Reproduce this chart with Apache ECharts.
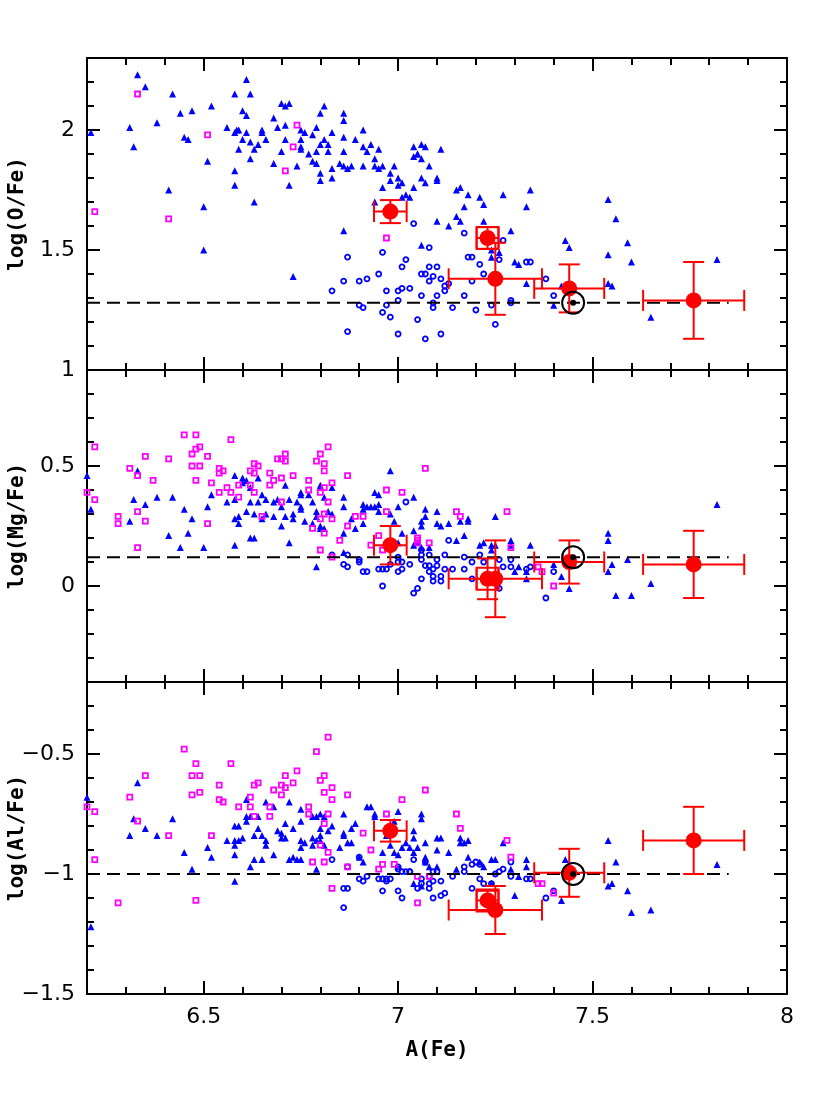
<!DOCTYPE html>
<html>
<head>
<meta charset="utf-8">
<script src="https://cdn.jsdelivr.net/npm/echarts@6.0.0/dist/echarts.min.js"></script>
<style>
  html, body { margin: 0; padding: 0; background: #fff; }
  #chart { width: 830px; height: 1106px; }
</style>
</head>
<body>
<div id="chart"></div>
<script>
// A(Fe) range shared by the three panels
const feRange = [6.2, 8];

// log(O/Fe)
const oTriangles = [
  [6.21,1.99],[6.33,2.23],[6.35,2.18],[6.31,2.01],[6.32,1.93],[6.38,2.03],[6.42,2.15],[6.41,1.75],[6.44,2.07],[6.45,1.97],
  [6.46,1.96],[6.47,2.08],[6.50,1.68],[6.50,1.50],[6.51,1.87],[6.52,2.10],[6.56,2.01],[6.58,2.15],[6.58,1.83],[6.58,1.77],
  [6.58,1.99],[6.585,2.00],[6.59,2.00],[6.59,1.92],[6.60,2.08],[6.61,2.21],[6.61,2.06],[6.61,1.99],[6.60,1.96],[6.62,2.15],
  [6.62,1.95],[6.62,1.88],[6.63,1.92],[6.63,1.70],[6.64,1.94],[6.65,2.00],[6.65,1.99],[6.66,1.96],[6.68,2.05],[6.68,1.86],
  [6.69,2.01],[6.70,2.11],[6.71,2.10],[6.72,2.11],[6.70,1.91],[6.71,2.02],[6.71,1.96],[6.72,1.77],[6.73,1.39],[6.74,1.85],
  [6.75,2.00],[6.75,1.92],[6.75,1.93],[6.75,1.96],[6.76,1.99],[6.77,1.90],[6.78,1.98],[6.78,1.87],[6.79,1.86],[6.79,2.01],
  [6.79,1.91],[6.80,2.07],[6.80,1.94],[6.80,1.82],[6.80,1.79],[6.81,2.10],[6.81,1.96],[6.82,1.94],[6.82,1.91],[6.83,1.99],
  [6.83,1.84],[6.83,1.80],[6.85,1.86],[6.86,1.85],[6.87,1.84],[6.88,1.85],[6.86,2.07],[6.86,2.04],[6.86,1.97],[6.86,1.91],
  [6.86,1.58],[6.89,1.96],[6.91,2.00],[6.91,1.93],[6.91,1.85],[6.92,1.91],[6.93,1.94],[6.94,1.88],[6.94,1.85],[6.95,1.92],
  [6.95,1.84],[6.96,1.85],[6.96,1.76],[6.94,1.70],[6.98,1.82],[6.99,1.85],[6.98,1.79],[7.00,1.80],[7.01,1.78],[7.00,1.77],
  [7.02,1.73],[7.01,1.72],[7.03,1.72],[7.04,1.89],[7.05,1.90],[7.04,1.76],[7.04,1.93],[7.06,1.94],[7.07,1.93],[7.05,1.90],
  [7.06,1.88],[7.08,1.85],[7.11,1.92],[7.06,1.80],[7.07,1.78],[7.10,1.80],[7.10,1.79],[7.10,1.62],[7.13,1.60],[7.15,1.75],
  [7.16,1.76],[7.18,1.73],[7.17,1.68],[7.15,1.64],[7.16,1.62],[7.21,1.72],[7.22,1.69],[7.27,1.73],[7.34,1.75],[7.33,1.68],
  [7.22,1.62],[7.29,1.58],[7.06,1.52],[7.24,1.47],[7.24,1.50],[7.26,1.49],[7.30,1.45],[7.31,1.44],[7.33,1.36],[7.43,1.54],
  [7.44,1.51],[7.54,1.71],[7.56,1.63],[7.59,1.53],[7.60,1.45],[7.54,1.48],[7.54,1.36],[7.55,1.35],[7.65,1.22],[7.82,1.46],
  [7.40,1.27],[7.42,1.35]
];
const oCircles = [
  [6.87,1.47],[6.86,1.37],[6.83,1.33],[6.90,1.37],[6.92,1.38],[6.90,1.27],[6.91,1.26],[6.87,1.16],[6.95,1.40],[6.96,1.49],
  [6.97,1.33],[6.97,1.27],[6.96,1.24],[6.98,1.22],[7.00,1.15],[7.00,1.33],[7.01,1.34],[7.03,1.34],[7.00,1.29],[7.01,1.43],
  [7.02,1.46],[7.04,1.61],[7.05,1.21],[7.06,1.40],[7.07,1.40],[7.06,1.31],[7.07,1.13],[7.08,1.51],[7.08,1.43],[7.10,1.43],
  [7.09,1.39],[7.08,1.37],[7.11,1.38],[7.09,1.28],[7.09,1.26],[7.10,1.31],[7.11,1.15],[7.12,1.35],[7.12,1.33],[7.13,1.36],
  [7.14,1.26],[7.17,1.57],[7.17,1.31],[7.18,1.47],[7.19,1.47],[7.19,1.37],[7.20,1.25],[7.21,1.44],[7.22,1.40],[7.24,1.27],
  [7.25,1.19],[7.26,1.46],[7.27,1.54],[7.29,1.29],[7.29,1.28],[7.33,1.45],[7.34,1.45],[7.38,1.38],[7.40,1.31]
];
const oSquares = [
  [6.22,1.66],[6.33,2.15],[6.41,1.63],[6.51,1.98],[6.71,1.83],[6.73,1.93],[6.74,2.02],[6.97,1.55]
];

// log(Mg/Fe)
const mgTriangles = [
  [6.20,0.46],[6.21,0.32],[6.31,0.27],[6.32,0.36],[6.33,0.48],[6.35,0.34],[6.38,0.37],[6.41,0.21],[6.42,0.37],[6.44,0.16],
  [6.45,0.32],[6.46,0.22],[6.47,0.28],[6.50,0.16],[6.51,0.33],[6.52,0.38],[6.56,0.35],[6.58,0.46],[6.58,0.36],[6.58,0.28],
  [6.59,0.29],[6.58,0.17],[6.59,0.26],[6.60,0.45],[6.61,0.44],[6.60,0.43],[6.61,0.31],[6.62,0.41],[6.62,0.35],[6.62,0.20],
  [6.63,0.20],[6.63,0.30],[6.64,0.35],[6.64,0.45],[6.65,0.38],[6.65,0.28],[6.66,0.36],[6.66,0.30],[6.68,0.35],[6.68,0.29],
  [6.69,0.36],[6.70,0.33],[6.70,0.25],[6.71,0.42],[6.71,0.29],[6.72,0.36],[6.72,0.18],[6.73,0.30],[6.73,0.28],[6.74,0.35],
  [6.75,0.39],[6.75,0.38],[6.75,0.33],[6.75,0.32],[6.76,0.27],[6.77,0.38],[6.78,0.35],[6.78,0.26],[6.79,0.31],[6.79,0.29],
  [6.79,0.08],[6.80,0.42],[6.80,0.41],[6.80,0.25],[6.80,0.24],[6.81,0.24],[6.81,0.37],[6.82,0.31],[6.83,0.41],[6.83,0.30],
  [6.86,0.37],[6.86,0.33],[6.86,0.22],[6.86,0.14],[6.88,0.28],[6.89,0.24],[6.91,0.34],[6.91,0.32],[6.91,0.26],[6.92,0.33],
  [6.93,0.33],[6.94,0.33],[6.95,0.34],[6.94,0.39],[6.95,0.38],[6.95,0.31],[6.98,0.48],[6.98,0.30],[6.99,0.27],[7.00,0.33],
  [7.01,0.22],[7.04,0.37],[7.04,0.23],[7.04,0.17],[7.07,0.32],[7.10,0.31],[7.07,0.29],[7.06,0.27],[7.06,0.25],[7.10,0.26],
  [7.11,0.25],[7.13,0.26],[7.16,0.27],[7.18,0.28],[7.18,0.27],[7.15,0.19],[7.17,0.21],[7.06,0.16],[7.08,0.16],[7.05,0.18],
  [7.25,0.29],[7.21,0.17],[7.22,0.18],[7.24,0.17],[7.24,0.15],[7.29,0.19],[7.29,0.17],[7.34,0.17],[7.31,0.08],[7.30,0.06],
  [7.33,0.06],[7.33,0.03],[7.00,0.18],[7.40,0.09],[7.42,0.04],[7.44,-0.01],[7.54,0.22],[7.54,0.19],[7.55,0.09],[7.54,0.06],
  [7.59,0.11],[7.56,-0.04],[7.60,-0.04],[7.65,0.01],[7.82,0.34],[7.25,0.17]
];
const mgCircles = [
  [6.83,0.13],[6.86,0.09],[6.87,0.08],[6.87,0.13],[6.90,0.11],[6.90,0.10],[6.91,0.06],[6.92,0.06],[6.95,0.07],[6.96,0.07],
  [6.97,0.07],[6.96,0.00],[6.98,0.09],[7.00,0.12],[7.00,0.10],[7.00,0.06],[7.01,0.07],[7.01,0.10],[7.02,0.35],[7.03,0.09],
  [7.04,-0.03],[7.05,-0.01],[7.06,0.15],[7.06,0.13],[7.08,0.13],[7.10,0.11],[7.06,0.11],[7.07,0.085],[7.08,0.085],[7.09,0.07],
  [7.10,0.085],[7.08,0.06],[7.09,0.04],[7.09,0.02],[7.11,0.04],[7.11,0.02],[7.06,0.03],[7.12,0.13],[7.13,0.19],[7.12,0.07],
  [7.14,0.07],[7.17,0.12],[7.17,0.07],[7.19,0.10],[7.19,0.03],[7.21,0.13],[7.22,0.10],[7.26,0.11],[7.26,-0.01],[7.27,0.08],
  [7.29,0.08],[7.29,0.11],[7.33,0.07],[7.34,0.08],[7.38,-0.05],[7.40,0.06]
];
const mgSquares = [
  [6.20,0.39],[6.22,0.58],[6.22,0.36],[6.28,0.29],[6.28,0.26],[6.31,0.49],[6.33,0.46],[6.33,0.31],[6.33,0.16],[6.35,0.54],
  [6.35,0.27],[6.37,0.44],[6.41,0.53],[6.45,0.63],[6.47,0.55],[6.47,0.50],[6.48,0.57],[6.48,0.63],[6.49,0.58],[6.49,0.50],
  [6.48,0.44],[6.51,0.54],[6.51,0.26],[6.52,0.43],[6.54,0.49],[6.54,0.47],[6.55,0.48],[6.54,0.39],[6.56,0.41],[6.57,0.61],
  [6.57,0.39],[6.59,0.42],[6.59,0.37],[6.62,0.48],[6.62,0.42],[6.63,0.51],[6.64,0.50],[6.63,0.47],[6.63,0.39],[6.65,0.29],
  [6.67,0.47],[6.67,0.42],[6.68,0.44],[6.69,0.53],[6.70,0.53],[6.71,0.55],[6.71,0.52],[6.70,0.45],[6.70,0.35],[6.73,0.46],
  [6.77,0.44],[6.77,0.40],[6.78,0.24],[6.79,0.52],[6.80,0.55],[6.80,0.39],[6.80,0.28],[6.80,0.15],[6.81,0.51],[6.81,0.48],
  [6.81,0.41],[6.81,0.30],[6.81,0.22],[6.82,0.58],[6.82,0.35],[6.83,0.43],[6.83,0.28],[6.83,0.12],[6.85,0.19],[6.87,0.46],
  [6.87,0.25],[6.89,0.29],[6.91,0.29],[6.93,0.17],[6.95,0.21],[6.96,0.15],[6.97,0.40],[6.97,0.31],[7.01,0.39],[7.05,0.19],
  [7.07,0.49],[7.15,0.31],[7.16,0.29],[7.28,0.31],[7.29,0.16],[7.36,0.08],[7.37,0.06],[7.40,0.00],[7.05,0.20],[7.05,0.18],
  [7.08,0.18]
];

// log(Al/Fe)
const alTriangles = [
  [6.20,-0.68],[6.21,-1.22],[6.31,-0.84],[6.32,-0.77],[6.33,-0.62],[6.35,-0.81],[6.38,-0.84],[6.42,-0.77],[6.45,-0.91],[6.47,-0.98],
  [6.51,-0.89],[6.52,-0.93],[6.56,-0.86],[6.58,-0.80],[6.59,-0.80],[6.58,-0.86],[6.58,-0.88],[6.58,-0.92],[6.58,-1.03],[6.59,-0.86],
  [6.60,-0.85],[6.61,-0.78],[6.61,-0.69],[6.61,-0.76],[6.62,-0.76],[6.62,-0.97],[6.63,-0.84],[6.63,-0.94],[6.65,-0.94],[6.64,-0.81],
  [6.64,-0.76],[6.65,-0.84],[6.66,-0.70],[6.66,-0.86],[6.66,-0.88],[6.68,-0.72],[6.68,-0.92],[6.69,-0.82],[6.70,-0.83],[6.70,-0.85],
  [6.71,-0.85],[6.71,-0.79],[6.72,-0.70],[6.72,-0.94],[6.73,-0.93],[6.74,-0.94],[6.75,-0.94],[6.73,-0.81],[6.75,-0.73],[6.75,-0.78],
  [6.75,-0.86],[6.75,-0.89],[6.76,-0.87],[6.78,-0.76],[6.79,-0.76],[6.80,-0.75],[6.78,-0.85],[6.79,-0.86],[6.78,-0.88],[6.79,-0.98],
  [6.80,-0.81],[6.80,-0.84],[6.80,-0.86],[6.81,-0.76],[6.81,-0.88],[6.82,-0.82],[6.83,-0.80],[6.85,-0.89],[6.86,-0.75],[6.86,-0.83],
  [6.86,-0.84],[6.87,-0.87],[6.88,-0.87],[6.88,-0.81],[6.89,-0.79],[6.90,-0.93],[6.91,-0.95],[6.92,-0.72],[6.93,-0.72],[6.94,-0.75],
  [6.94,-0.76],[6.96,-0.91],[6.97,-0.84],[6.98,-0.88],[6.99,-0.78],[6.99,-0.91],[7.00,-0.92],[7.00,-0.74],[7.01,-0.89],[7.02,-0.87],
  [7.03,-0.89],[7.04,-0.91],[7.04,-0.82],[7.06,-0.75],[7.06,-0.77],[7.04,-0.85],[7.05,-0.89],[7.07,-0.87],[7.07,-0.93],[7.07,-0.95],
  [7.10,-0.85],[7.11,-0.85],[7.10,-0.90],[7.13,-0.91],[7.16,-0.85],[7.16,-0.87],[7.17,-0.87],[7.18,-0.86],[7.15,-0.98],[7.18,-0.93],
  [7.21,-0.95],[7.24,-0.94],[7.25,-0.94],[7.27,-0.87],[7.29,-0.98],[7.31,-1.01],[7.33,-0.94],[7.33,-0.97],[7.30,-1.09],[7.04,-1.04],
  [7.06,-1.05],[7.08,-0.97],[7.10,-0.97],[7.22,-0.97],[7.24,-1.04],[7.42,-1.11],[7.43,-0.94],[7.54,-0.86],[7.56,-0.95],[7.54,-1.05],
  [7.55,-1.04],[7.59,-1.07],[7.60,-1.16],[7.65,-1.15],[7.82,-0.96]
];
const alCircles = [
  [6.83,-0.94],[6.86,-1.06],[6.87,-1.06],[6.86,-1.14],[6.87,-0.97],[6.90,-0.93],[6.90,-1.02],[6.91,-1.03],[6.92,-1.01],[6.95,-1.02],
  [6.96,-1.02],[6.97,-1.02],[6.98,-1.02],[6.97,-1.03],[6.96,-1.07],[7.00,-0.97],[7.00,-0.98],[7.01,-0.99],[7.00,-1.07],[7.01,-1.10],
  [7.03,-0.99],[7.04,-0.94],[7.05,-1.06],[7.07,-0.95],[7.09,-0.99],[7.10,-0.99],[7.08,-1.01],[7.08,-1.04],[7.08,-1.06],[7.09,-1.03],
  [7.11,-1.03],[7.09,-1.10],[7.11,-1.09],[7.12,-1.08],[7.14,-1.01],[7.17,-0.97],[7.17,-0.99],[7.19,-0.96],[7.20,-0.95],[7.21,-0.96],
  [7.21,-1.02],[7.22,-1.04],[7.19,-1.06],[7.24,-1.04],[7.25,-1.00],[7.26,-0.99],[7.27,-0.98],[7.29,-0.95],[7.29,-1.01],[7.33,-1.02],
  [7.34,-1.02],[7.38,-1.10],[7.40,-1.07],[7.06,-1.02],[7.06,-1.04],[7.02,-0.99],[7.03,-0.99]
];
const alSquares = [
  [6.20,-0.72],[6.22,-0.74],[6.22,-0.94],[6.28,-1.12],[6.31,-0.68],[6.33,-0.78],[6.35,-0.59],[6.41,-0.84],[6.45,-0.48],[6.47,-0.59],
  [6.47,-0.67],[6.48,-0.54],[6.48,-1.11],[6.49,-0.59],[6.49,-0.66],[6.52,-0.84],[6.54,-0.63],[6.54,-0.69],[6.55,-0.70],[6.57,-0.54],
  [6.59,-0.72],[6.62,-0.68],[6.62,-0.72],[6.63,-0.63],[6.64,-0.62],[6.63,-0.76],[6.67,-0.72],[6.67,-0.76],[6.68,-0.65],[6.70,-0.63],
  [6.71,-0.64],[6.70,-0.67],[6.71,-0.59],[6.73,-0.62],[6.74,-0.57],[6.77,-0.72],[6.77,-0.75],[6.78,-0.95],[6.79,-0.49],[6.80,-0.61],
  [6.80,-0.88],[6.81,-0.59],[6.81,-0.66],[6.81,-0.79],[6.81,-0.95],[6.82,-0.43],[6.82,-0.75],[6.82,-0.91],[6.83,-0.64],[6.83,-0.69],
  [6.83,-1.06],[6.87,-0.67],[6.87,-0.97],[6.91,-0.83],[6.93,-0.90],[6.95,-0.98],[6.96,-0.96],[6.97,-0.75],[6.99,-0.96],[7.01,-0.69],
  [7.05,-1.12],[7.05,-1.01],[7.07,-0.65],[7.15,-0.75],[7.16,-0.81],[7.28,-0.86],[7.29,-0.93],[7.08,-1.01],[7.36,-1.04],[7.37,-1.04],
  [7.40,-1.08]
];

// red stars with error bars (same A(Fe) in every panel)
const starFe = [6.98, 7.23, 7.25, 7.44, 7.76];
const starFeErr = [0.042, 0.028, 0.12, 0.09, 0.13];
const starO = [1.66, 1.55, 1.38, 1.34, 1.29];
const starOErr = [0.048, 0.045, 0.15, 0.10, 0.16];
const starMg = [0.17, 0.03, 0.03, 0.10, 0.09];
const starMgErr = [0.08, 0.085, 0.16, 0.09, 0.14];
const starAl = [-0.82, -1.11, -1.15, -0.995, -0.86];
const starAlErr = [0.045, 0.04, 0.10, 0.10, 0.14];
const boxedStar = 1; // index of the star drawn with an open square

// sun and dashed solar reference lines
const solarFe = 7.45;
const solarO = 1.28, solarMg = 0.12, solarAl = -1.0;
const refLineFe = [6.2, 7.85];

const panels = [
  { name: 'log(O/Fe)', min: 1, max: 2.3, tri: oTriangles, circ: oCircles, sq: oSquares, star: starO, err: starOErr, sun: solarO },
  { name: 'log(Mg/Fe)', min: -0.4, max: 0.9, tri: mgTriangles, circ: mgCircles, sq: mgSquares, star: starMg, err: starMgErr, sun: solarMg },
  { name: 'log(Al/Fe)', min: -1.5, max: -0.2, tri: alTriangles, circ: alCircles, sq: alSquares, star: starAl, err: starAlErr, sun: solarAl }
];

const BLUE = '#0000ff', MAGENTA = '#ff00ff', RED = '#ff0000';
const tickFont = { fontFamily: 'DejaVu Sans', fontSize: 22, color: '#000' };
const nameFont = { fontFamily: 'DejaVu Sans Mono', fontWeight: 'bold', fontSize: 21, color: '#000' };

function halfLabel(v) {
  if (Math.abs(v * 2 - Math.round(v * 2)) > 1e-6) return '';
  return String(+v.toFixed(2)).replace('-', '\u2212');
}

function frameAxis(extra) {
  return Object.assign({
    type: 'value',
    minInterval: 0.5,
    maxInterval: 0.5,
    splitNumber: 3,
    nameMoveOverlap: false,
    axisLine: { show: true, onZero: false, lineStyle: { color: '#000', width: 2 } },
    axisTick: { show: true, inside: true, length: 13, lineStyle: { color: '#000', width: 2 } },
    minorTick: { show: true, splitNumber: 5, length: 7, lineStyle: { color: '#000', width: 2 } },
    splitLine: { show: false },
    axisLabel: { show: false }
  }, extra);
}

function errorBars(params, api) {
  const x = api.value(0), y = api.value(1), ex = api.value(2), ey = api.value(3);
  const c = api.coord([x, y]);
  const l = api.coord([x - ex, y])[0], r = api.coord([x + ex, y])[0];
  const t = api.coord([x, y + ey])[1], b = api.coord([x, y - ey])[1];
  const h = 10.5;
  const style = { stroke: RED, lineWidth: 2, fill: null };
  const seg = (x1, y1, x2, y2) => ({ type: 'line', shape: { x1, y1, x2, y2 }, style });
  return {
    type: 'group',
    children: [
      seg(l, c[1], r, c[1]),
      seg(c[0], t, c[0], b),
      seg(l, c[1] - h, l, c[1] + h),
      seg(r, c[1] - h, r, c[1] + h),
      seg(c[0] - h, t, c[0] + h, t),
      seg(c[0] - h, b, c[0] + h, b)
    ]
  };
}

const grids = [], xAxes = [], yAxes = [], series = [];
const gridTops = [58, 370, 682];

panels.forEach((p, i) => {
  grids.push({ left: 87, top: gridTops[i], width: 700, height: 312, containLabel: false, outerBoundsMode: 'none' });
  const xb = xAxes.length;
  xAxes.push(frameAxis({
    gridIndex: i, position: 'bottom', min: feRange[0], max: feRange[1], splitNumber: 4,
    axisLabel: i === 2 ? Object.assign({ show: true, margin: 12, formatter: halfLabel }, tickFont) : { show: false },
    name: i === 2 ? 'A(Fe)' : '', nameLocation: 'middle', nameGap: 46, nameTextStyle: nameFont
  }));
  xAxes.push(frameAxis({ gridIndex: i, position: 'top', min: feRange[0], max: feRange[1], splitNumber: 4 }));
  const yl = yAxes.length;
  yAxes.push(frameAxis({
    gridIndex: i, position: 'left', min: p.min, max: p.max,
    axisLabel: Object.assign({ show: true, margin: 12, formatter: halfLabel }, tickFont),
    name: p.name, nameLocation: 'middle', nameGap: 59, nameRotate: 90, nameTextStyle: nameFont
  }));
  yAxes.push(frameAxis({ gridIndex: i, position: 'right', min: p.min, max: p.max }));

  const ax = { xAxisIndex: xb, yAxisIndex: yl };
  series.push(Object.assign({
    type: 'scatter', symbol: 'triangle', symbolSize: 7, z: 2,
    itemStyle: { color: BLUE }, data: p.tri
  }, ax));
  series.push(Object.assign({
    type: 'scatter', symbol: 'circle', symbolSize: 5, z: 2,
    itemStyle: { color: 'rgba(0,0,0,0)', borderColor: BLUE, borderWidth: 1.8 }, data: p.circ
  }, ax));
  series.push(Object.assign({
    type: 'scatter', symbol: 'rect', symbolSize: 5, z: 2,
    itemStyle: { color: 'rgba(0,0,0,0)', borderColor: MAGENTA, borderWidth: 1.8 }, data: p.sq
  }, ax));
  series.push(Object.assign({
    type: 'line', symbol: 'none', z: 3,
    lineStyle: { color: '#000', width: 2, type: [13, 7] },
    data: refLineFe.map(fe => [fe, p.sun])
  }, ax));
  series.push(Object.assign({
    type: 'custom', renderItem: errorBars, z: 4, encode: { x: 0, y: 1 },
    data: starFe.map((fe, k) => [fe, p.star[k], starFeErr[k], p.err[k]])
  }, ax));
  series.push(Object.assign({
    type: 'scatter', symbol: 'circle', symbolSize: 16, z: 5,
    itemStyle: { color: RED }, data: starFe.map((fe, k) => [fe, p.star[k]])
  }, ax));
  series.push(Object.assign({
    type: 'scatter', symbol: 'rect', symbolSize: 22, z: 5,
    itemStyle: { color: 'rgba(0,0,0,0)', borderColor: RED, borderWidth: 2 },
    data: [[starFe[boxedStar], p.star[boxedStar]]]
  }, ax));
  series.push(Object.assign({
    type: 'scatter', symbol: 'circle', symbolSize: 22, z: 6,
    itemStyle: { color: 'rgba(0,0,0,0)', borderColor: '#000', borderWidth: 2 },
    data: [[solarFe, p.sun]]
  }, ax));
  series.push(Object.assign({
    type: 'scatter', symbol: 'circle', symbolSize: 6, z: 6,
    itemStyle: { color: '#000' }, data: [[solarFe, p.sun]]
  }, ax));
});

series.forEach(s => {
  s.silent = true;
  s.emphasis = { disabled: true };
  if (s.type === 'scatter') s.itemStyle.opacity = 1;
});

const chart = echarts.init(document.getElementById('chart'), null, { renderer: 'canvas' });
chart.setOption({
  backgroundColor: '#fff',
  animation: false,
  grid: grids,
  xAxis: xAxes,
  yAxis: yAxes,
  series: series
});
</script>
</body>
</html>
